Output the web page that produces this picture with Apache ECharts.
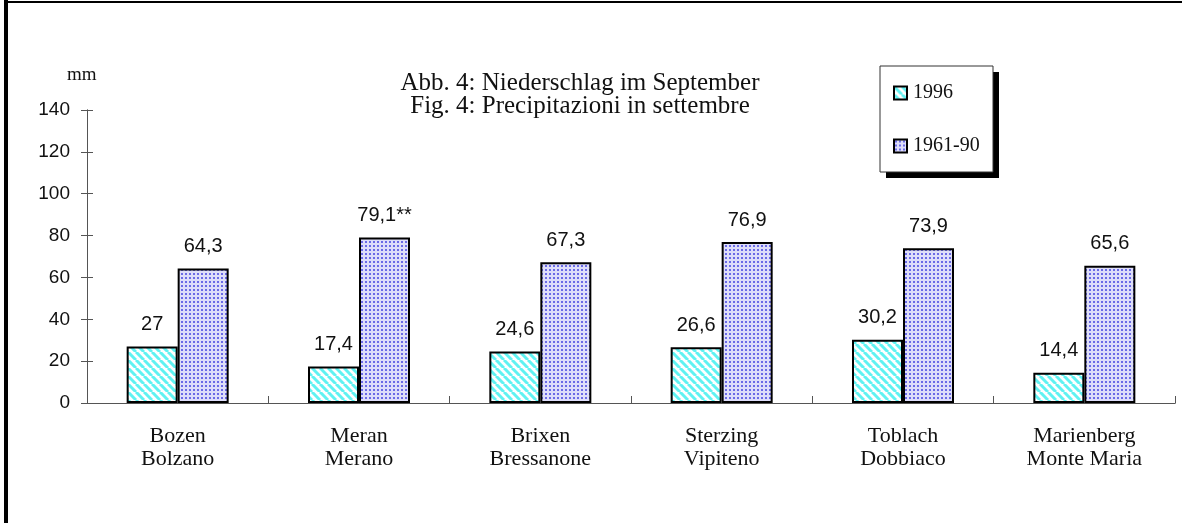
<!DOCTYPE html>
<html>
<head>
<meta charset="utf-8">
<script src="https://cdn.jsdelivr.net/npm/echarts@6/dist/echarts.min.js"></script>
<style>
  html, body { margin: 0; padding: 0; background: #fff; }
  #chart { width: 1182px; height: 523px; }
</style>
</head>
<body>
<div id="chart"></div>
<script type="text/javascript">
  // data
  var stations = ['Bozen\nBolzano', 'Meran\nMerano', 'Brixen\nBressanone', 'Sterzing\nVipiteno', 'Toblach\nDobbiaco', 'Marienberg\nMonte Maria'];
  var year1996 = [27, 17.4, 24.6, 26.6, 30.2, 14.4];
  var normal6190 = [64.3, 79.1, 67.3, 76.9, 73.9, 65.6];
  var normalNotes = ['', '**', '', '', '', ''];
  var yTicks = [0, 20, 40, 60, 80, 100, 120, 140];

  // fill patterns like the old office chart
  function stripePattern() {
    var c = document.createElement('canvas');
    c.width = 8; c.height = 8;
    var ctx = c.getContext('2d');
    ctx.fillStyle = '#ffffff';
    ctx.fillRect(0, 0, 8, 8);
    ctx.strokeStyle = '#5ff2f2';
    ctx.lineWidth = 3;
    for (var k = -16; k <= 16; k += 8) {
      ctx.beginPath();
      ctx.moveTo(k, 0);
      ctx.lineTo(k + 8, 8);
      ctx.stroke();
    }
    return c;
  }
  function dotPattern() {
    var c = document.createElement('canvas');
    c.width = 4; c.height = 4;
    var ctx = c.getContext('2d');
    ctx.fillStyle = '#dedefa';
    ctx.fillRect(0, 0, 4, 4);
    ctx.fillStyle = '#6b6be6';
    ctx.fillRect(1, 1, 2, 2);
    return c;
  }

  var chart = echarts.init(document.getElementById('chart'));

  var serif = 'Liberation Serif';
  var sans = 'Liberation Sans';
  var axisColor = '#555';

  function fmt(v) { return String(v).replace('.', ','); }

  var gridBox = { left: 87, right: 7, top: 110, bottom: 120 };

  var option = {
    animation: false,
    backgroundColor: '#fff',
    title: {
      text: 'Abb. 4: Niederschlag im September\nFig. 4: Precipitazioni in settembre',
      left: 575,
      top: 67,
      textAlign: 'center',
      textStyle: { fontFamily: serif, fontSize: 25, fontWeight: 'normal', color: '#111', lineHeight: 23 }
    },
    graphic: [
      // frame remains
      { type: 'rect', shape: { x: 4, y: 0, width: 4, height: 523 }, style: { fill: '#000' } },
      { type: 'rect', shape: { x: 4, y: 1, width: 1178, height: 2 }, style: { fill: '#000' } },
      // legend box with shadow
      { type: 'rect', z: 0, shape: { x: 886, y: 72, width: 113, height: 106 }, style: { fill: '#000' } },
      { type: 'rect', z: 0, shape: { x: 880, y: 66, width: 113, height: 106 }, style: { fill: '#fff', stroke: '#333', lineWidth: 1 } },
      { type: 'text', left: 67, top: 66, style: { text: 'mm', font: '19px "Liberation Serif"', fill: '#111' } }
    ],
    legend: {
      orient: 'vertical',
      left: 893,
      top: 83,
      padding: 0,
      itemWidth: 13,
      itemHeight: 13,
      itemGap: 33,
      icon: 'rect',
      z: 5,
      itemStyle: { borderColor: '#000', borderWidth: 2 },
      textStyle: { fontFamily: serif, fontSize: 20, color: '#111', lineHeight: 20, padding: [0, 0, 0, 1] },
      data: ['1996', '1961-90']
    },
    // second grid only carries the inner half of the crossing ticks (negative length)
    grid: [gridBox, gridBox],
    xAxis: [
      {
        type: 'category',
        gridIndex: 0,
        data: stations,
        axisLine: { lineStyle: { color: axisColor, width: 1 } },
        axisTick: { length: 7, lineStyle: { color: axisColor } },
        axisLabel: { fontFamily: serif, fontSize: 22, color: '#111', lineHeight: 23, margin: 22 }
      },
      {
        type: 'category',
        gridIndex: 1,
        data: stations,
        axisLine: { show: true, lineStyle: { color: axisColor } },
        axisTick: { show: true, length: -7, lineStyle: { color: axisColor } },
        axisLabel: { show: false }
      }
    ],
    yAxis: [
      {
        type: 'value',
        gridIndex: 0,
        min: yTicks[0],
        max: yTicks[yTicks.length - 1],
        interval: 20,
        splitLine: { show: false },
        axisLine: { show: true, lineStyle: { color: axisColor, width: 1 } },
        axisTick: { show: true, length: 6, lineStyle: { color: axisColor } },
        axisLabel: { fontFamily: sans, fontSize: 19, color: '#111', margin: 17 }
      },
      {
        type: 'value',
        gridIndex: 1,
        min: yTicks[0],
        max: yTicks[yTicks.length - 1],
        interval: 20,
        splitLine: { show: false },
        axisLine: { show: true, lineStyle: { color: axisColor } },
        axisTick: { show: true, length: -6, lineStyle: { color: axisColor } },
        axisLabel: { show: false }
      }
    ],
    series: [
      {
        name: '1996',
        type: 'bar',
        barWidth: 51,
        barGap: '0%',
        data: year1996,
        itemStyle: { color: { image: stripePattern(), repeat: 'repeat' }, borderColor: '#000', borderWidth: 2 },
        label: {
          show: true, position: 'top', distance: 12,
          fontFamily: sans, fontSize: 20, color: '#111',
          formatter: function (p) { return fmt(p.value); }
        }
      },
      {
        name: '1961-90',
        type: 'bar',
        barWidth: 51,
        barGap: '0%',
        data: normal6190,
        itemStyle: { color: { image: dotPattern(), repeat: 'repeat' }, borderColor: '#000', borderWidth: 2 },
        label: {
          show: true, position: 'top', distance: 12,
          fontFamily: sans, fontSize: 20, color: '#111',
          formatter: function (p) { return fmt(p.value) + normalNotes[p.dataIndex]; }
        }
      },
      {
        // empty helper so the tick grid is drawn
        name: 'ticks',
        type: 'line',
        xAxisIndex: 1,
        yAxisIndex: 1,
        silent: true,
        showSymbol: false,
        lineStyle: { opacity: 0 },
        data: []
      }
    ]
  };

  chart.setOption(option);
</script>
</body>
</html>
